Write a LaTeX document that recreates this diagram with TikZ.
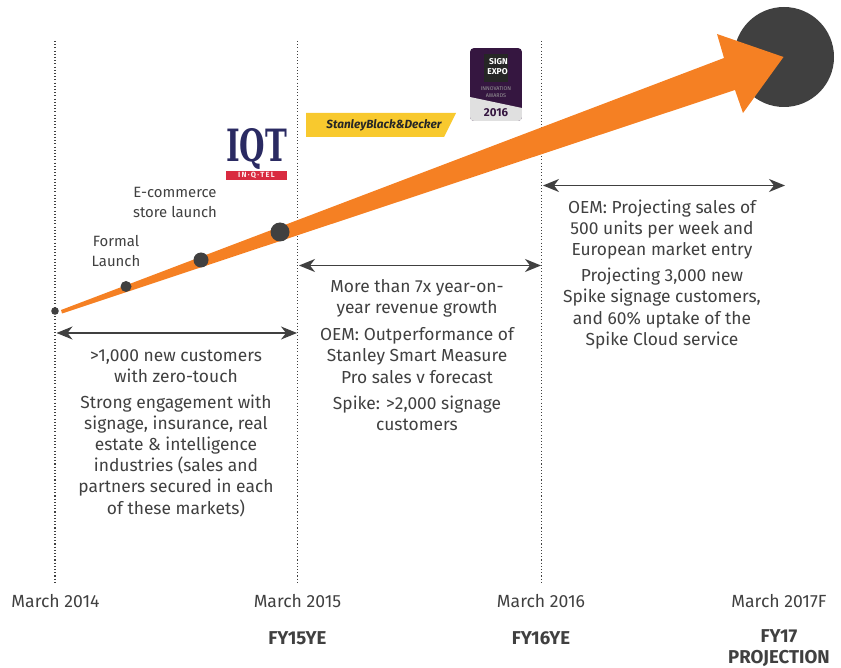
\documentclass[tikz,border=0pt]{standalone}
\usepackage{fontspec}
\setmainfont{Fira Sans}
\newfontfamily\logoserif{DejaVu Serif}
\usetikzlibrary{arrows.meta}
\definecolor{ink}{HTML}{404040}
\definecolor{orangeA}{HTML}{F58023}
\definecolor{purp}{HTML}{351640}
\definecolor{iqtblue}{HTML}{2A2A62}
\definecolor{iqtred}{HTML}{D92B40}
\definecolor{sbdyellow}{HTML}{F8C92E}
\tikzset{
  x=1pt,y=-1pt,
  guide/.style={draw=ink,line width=1.1pt,dash pattern=on 1.1pt off 2.1pt},
  span/.style={draw=ink,line width=1.3pt,{Stealth[length=16pt,width=13pt,inset=5pt]}-{Stealth[length=16pt,width=13pt,inset=5pt]}},
  dot/.style={fill=ink,draw=none},
  lab/.style={text=ink,font=\fontsize{17.4}{21.2}\selectfont,align=center,inner sep=0pt},
  sml/.style={text=ink,font=\fontsize{14.9}{20}\selectfont,align=center,inner sep=0pt},
  yr/.style={text=ink,font=\fontsize{17.6}{18}\selectfont,align=center,inner sep=0pt},
  fy/.style={text=ink,font=\bfseries\fontsize{18.6}{21}\selectfont,align=center,inner sep=0pt},
}
\begin{document}
\begin{tikzpicture}
\useasboundingbox (0,0) rectangle (841,668);
% guides
\coordinate (g1t) at (55,41); \coordinate (g1b) at (55,582);
\coordinate (g2t) at (297.5,41); \coordinate (g2b) at (297.5,582);
\coordinate (g3t) at (541.5,41); \coordinate (g3b) at (541.5,582);
\draw[guide] (g1t) -- (g1b);
\draw[guide] (g2t) -- (g2b);
\draw[guide] (g3t) -- (g3b);
% big circle and arrow
\fill[ink] (784,57) circle (50);
\fill[orangeA] (61,310) -- (724,58) -- (717,34) -- (783.5,57) -- (743,113) -- (735,90) -- (62,313.5) -- cycle;
% milestones
\fill[dot] (55,311) circle (3.8);
\fill[dot] (126,286.5) circle (5.5);
\fill[dot] (201,260) circle (7.5);
\fill[dot] (280,232) circle (9.5);
% spans
\coordinate (s1a) at (56.5,333); \coordinate (s1b) at (297,333);
\coordinate (s2a) at (299,265.5); \coordinate (s2b) at (541,265.5);
\coordinate (s3a) at (543,185.5); \coordinate (s3b) at (785,185.5);
\draw[span] (s1a) -- (s1b);
\draw[span] (s2a) -- (s2b);
\draw[span] (s3a) -- (s3b);
% IQT logo
\fill[iqtred] (226,171) rectangle (287,180);
\node[inner sep=0pt,text=iqtblue] (iqt) at (256.5,149.5) {\resizebox{61pt}{33pt}{\logoserif\bfseries IQT}};
\node[inner sep=0pt,text=white!90!iqtred,font=\bfseries\fontsize{7.5}{8}\selectfont] (inqtel) at (256.5,175.5) {I\,N\,·\,Q\,·\,T\,E\,L};
% SBD logo
\fill[sbdyellow] (306,113) -- (456,113) -- (444,137) -- (306,137) -- cycle;
\node[inner sep=0pt,text=black!85,font=\bfseries\itshape\fontsize{11.8}{14}\selectfont] (sbd) at (384,125) {StanleyBlack\&Decker};
% badge
\begin{scope}
\clip[rounded corners=4pt] (470,48) rectangle (522,121);
\fill[purp] (470,48) rectangle (522,121);
\fill[black!12] (470,97) -- (522,108) -- (522,121) -- (470,121) -- cycle;
\fill[black!85] (484,54) rectangle (508,82);
\end{scope}
\node[inner sep=0pt,text=white,font=\bfseries\fontsize{8.5}{10}\selectfont,align=right] (expo) at (497.5,67) {SIGN\\EXPO};
\node[inner sep=0pt,text=black!40,font=\fontsize{5.4}{6.5}\selectfont,align=center] (innov) at (496,92) {INNOVATION\\AWARDS};
\node[inner sep=0pt,text=purp,font=\bfseries\fontsize{11.5}{12}\selectfont] (yr16) at (496,112.5) {2016};
% texts
\node[sml] (elaunch) at (175,202.5) {E-commerce\\store launch};
\node[sml] (flaunch) at (116,251.5) {Formal\\Launch};
\node[lab] (t1a) at (176,366.5) {>1,000 new customers\\with zero-touch};
\node[lab] (t1b) at (176,455.5) {Strong engagement with\\signage, insurance, real\\estate \& intelligence\\industries (sales and\\partners secured in each\\of these markets)};
\node[lab] (t2a) at (417,298.5) {More than 7x year-on-\\year revenue growth};
\node[lab] (t2b) at (417,355.5) {OEM: Outperformance of\\Stanley Smart Measure\\Pro sales v forecast};
\node[lab] (t2c) at (417,413) {Spike: >2,000 signage\\customers};
\node[lab] (t3a) at (662,229.5) {OEM: Projecting sales of\\500 units per week and\\European market entry};
\node[lab] (t3b) at (662,308.5) {Projecting 3,000 new\\Spike signage customers,\\and 60\% uptake of the\\Spike Cloud service};
\node[yr] (y14) at (55.5,601) {March 2014};
\node[yr] (y15) at (297.5,601) {March 2015};
\node[yr] (y16) at (541,601) {March 2016};
\node[yr] (y17) at (779,601) {March 2017F};
\node[fy] (f15) at (297.5,638) {FY15YE};
\node[fy] (f16) at (541,638) {FY16YE};
\node[fy] (f17) at (779,648) {FY17\\PROJECTION};
\end{tikzpicture}
\end{document}
